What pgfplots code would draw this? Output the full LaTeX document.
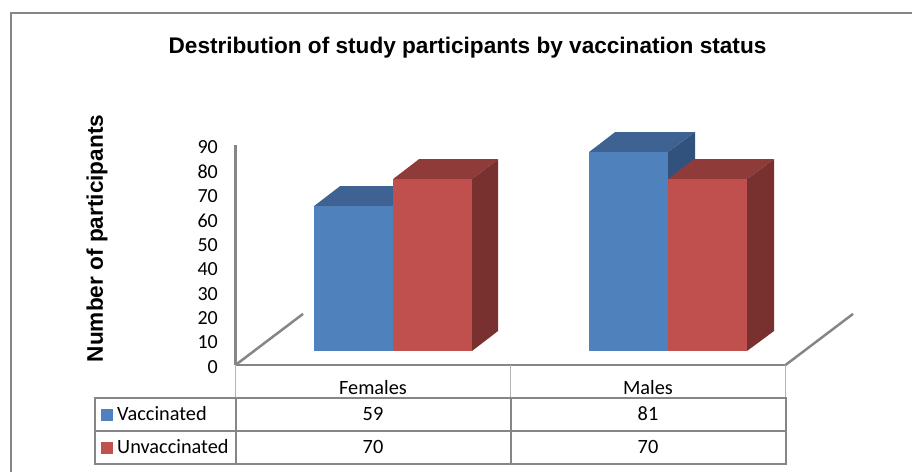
\documentclass[border=0pt]{standalone}
\usepackage{pgfplots}
\pgfplotsset{compat=1.18}
\usepackage{fontspec}
\setmainfont{Carlito}
\newfontfamily\arial{Liberation Sans}
\definecolor{gridg}{HTML}{868686}
\definecolor{lightg}{HTML}{B4B4B4}
\definecolor{bluef}{HTML}{4F81BD}
\definecolor{bluet}{HTML}{3E6392}
\definecolor{blues}{HTML}{31527C}
\definecolor{redf}{HTML}{C0504D}
\definecolor{redt}{HTML}{8F3B39}
\definecolor{reds}{HTML}{78312F}
\begin{document}
\begin{tikzpicture}[x=1pt,y=1pt]
\useasboundingbox (0,0) rectangle (912,472);
\fill[white] (0,0) rectangle (912,472);
% outer frame
\draw[gridg,line width=2pt] (10.5,0) -- (10.5,459) -- (912,459);
% title and y label
\node[font=\arial\bfseries\fontsize{22.6}{25}\selectfont,text=black] at (467.5,424.5) {Destribution of study participants by vaccination status};
\node[font=\arial\bfseries\fontsize{22.6}{25}\selectfont,text=black,rotate=90] at (97,233.5) {Number of participants};
% value axis with floor
\begin{axis}[
  at={(235.5pt,107pt)},anchor=south west,
  scale only axis,width=550pt,height=220pt,
  xmin=235.5,xmax=785.5,ymin=0,ymax=90,
  axis y line=left,axis x line=bottom,
  axis line style={gridg,line width=2.5pt,-},
  xtick=\empty,
  ytick={0,10,...,90},
  tick style={draw=none},
  yticklabel style={font=\fontsize{20}{22}\selectfont,text=black,xshift=-12pt,yshift=-2pt},
  /pgf/number format/assume math mode=true,
  clip=false]
\addplot[gridg,line width=2.5pt] coordinates {(235.5,0)(303,20.9)};
\addplot[gridg,line width=2.5pt] coordinates {(785.5,0)(853,20.9)};
\end{axis}
% bars: value 0 sits at pixel row 351, 2.456 pixels per participant;
% the depth of each bar is 26 px across and 8.14 participants up
\begin{axis}[
  at={(235.5pt,107pt)},anchor=south west,
  scale only axis,width=550pt,height=220pt,
  xmin=235.5,xmax=785.5,ymin=-5.7,ymax=83.9,
  hide axis,clip=false]
% Females, vaccinated = 59
\addplot[draw=none,fill=bluet] coordinates {(314,59)(340,67.14)(419,67.14)(393,59)} -- cycle;
\addplot[ybar,bar width=79,bar shift=0pt,draw=none,fill=bluef] coordinates {(353.5,59)};
% Females, unvaccinated = 70
\addplot[draw=none,fill=redt] coordinates {(393,70)(419,78.14)(498,78.14)(472,70)} -- cycle;
\addplot[draw=none,fill=reds] coordinates {(472,0)(498,8.14)(498,78.14)(472,70)} -- cycle;
\addplot[ybar,bar width=79,bar shift=0pt,draw=none,fill=redf] coordinates {(432.5,70)};
% Males, vaccinated = 81
\addplot[draw=none,fill=bluet] coordinates {(589,81)(615,89.14)(695,89.14)(668,81)} -- cycle;
\addplot[draw=none,fill=blues] coordinates {(668,0)(695,8.14)(695,89.14)(668,81)} -- cycle;
\addplot[ybar,bar width=79,bar shift=0pt,draw=none,fill=bluef] coordinates {(628.5,81)};
% Males, unvaccinated = 70
\addplot[draw=none,fill=redt] coordinates {(668,70)(694,78.14)(774,78.14)(747,70)} -- cycle;
\addplot[draw=none,fill=reds] coordinates {(747,0)(774,8.14)(774,78.14)(747,70)} -- cycle;
\addplot[ybar,bar width=79,bar shift=0pt,draw=none,fill=redf] coordinates {(707.5,70)};
\end{axis}
% data table
\draw[lightg,line width=1.5pt] (235.5,107) -- (235.5,74);
\draw[lightg,line width=1.5pt] (510.5,107) -- (510.5,74);
\draw[lightg,line width=1.5pt] (785.5,107) -- (785.5,74);
\draw[gridg,line width=2pt] (95,74) rectangle (785.5,8.5);
\draw[gridg,line width=2pt] (95,41) -- (785.5,41);
\draw[gridg,line width=2pt] (235.5,74) -- (235.5,8.5);
\draw[gridg,line width=2pt] (510.5,74) -- (510.5,8.5);
\fill[bluef] (101,63) rectangle (113,51);
\fill[redf] (101,30) rectangle (113,18);
\begin{scope}[every node/.style={font=\fontsize{20.3}{22}\selectfont,text=black}]
\node[anchor=base west] at (113.7,52) {Vaccinated};
\node[anchor=base west] at (113.7,19) {Unvaccinated};
\node[anchor=base] at (373,78) {Females};
\node[anchor=base] at (648,78) {Males};
\node[anchor=base] at (373,52) {59};
\node[anchor=base] at (648,52) {81};
\node[anchor=base] at (373,19) {70};
\node[anchor=base] at (648,19) {70};
\end{scope}
\end{tikzpicture}
\end{document}
